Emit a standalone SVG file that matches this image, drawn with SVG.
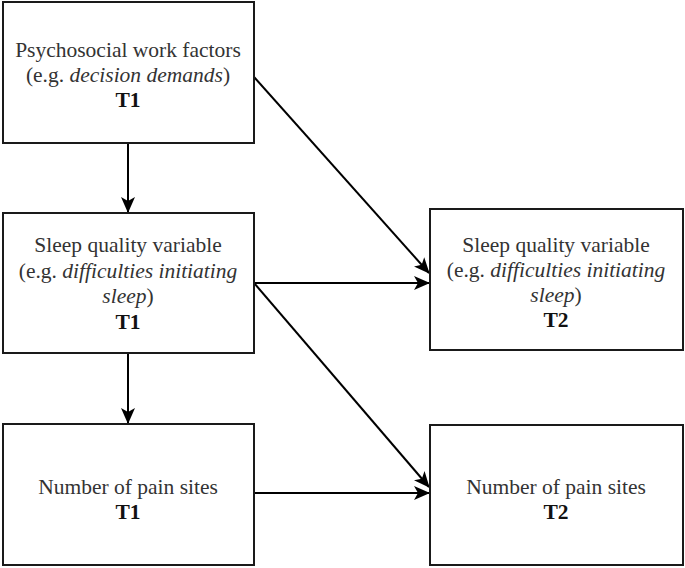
<svg xmlns="http://www.w3.org/2000/svg" width="685" height="568" viewBox="0 0 685 568">
<style>
.box{fill:#fff;stroke:#1a1a1a;stroke-width:2}
.c{stroke:#000;stroke-width:2;fill:none;marker-end:url(#ah)}
</style>
<defs>
<marker id="ah" viewBox="0 0 16 14" refX="15" refY="7" markerWidth="16" markerHeight="14" markerUnits="userSpaceOnUse" orient="auto">
<path d="M0,0 L16,7 L0,14 L4,7 Z" fill="#000"/>
</marker>
</defs>
<rect width="685" height="568" fill="#fff"/>
<g id="connectors">
<path d="M128,143 L128,212" class="c"/>
<path d="M128,353 L128,423" class="c"/>
<path d="M254,77 L429,273" class="c"/>
<path d="M254,283 L429,283" class="c"/>
<path d="M254,283 L429,487" class="c"/>
<path d="M254,493 L429,493" class="c"/>
</g>
<g id="psychosocial-t1" font-family="Liberation Serif, Times New Roman, serif" font-size="21.5" fill="#333" text-anchor="middle">
<rect class="box" x="3" y="2" width="251" height="141"/>
<text x="128" y="57">Psychosocial work factors</text>
<text x="128" y="82">(e.g. <tspan font-style="italic">decision demands</tspan>)</text>
<text x="128" y="107" font-weight="bold" fill="#111">T1</text>
</g>
<g id="sleep-t1" font-family="Liberation Serif, Times New Roman, serif" font-size="21.5" fill="#333" text-anchor="middle">
<rect class="box" x="3" y="213" width="251" height="140"/>
<text x="128" y="252">Sleep quality variable</text>
<text x="128" y="278">(e.g. <tspan font-style="italic">difficulties initiating</tspan></text>
<text x="128" y="303"><tspan font-style="italic">sleep</tspan>)</text>
<text x="128" y="329" font-weight="bold" fill="#111">T1</text>
</g>
<g id="sleep-t2" font-family="Liberation Serif, Times New Roman, serif" font-size="21.5" fill="#333" text-anchor="middle">
<rect class="box" x="430" y="209" width="253" height="141"/>
<text x="556" y="252">Sleep quality variable</text>
<text x="556" y="277">(e.g. <tspan font-style="italic">difficulties initiating</tspan></text>
<text x="556" y="302"><tspan font-style="italic">sleep</tspan>)</text>
<text x="556" y="327" font-weight="bold" fill="#111">T2</text>
</g>
<g id="pain-t1" font-family="Liberation Serif, Times New Roman, serif" font-size="21.5" fill="#333" text-anchor="middle">
<rect class="box" x="3" y="424" width="251" height="141"/>
<text x="128" y="494">Number of pain sites</text>
<text x="128" y="519" font-weight="bold" fill="#111">T1</text>
</g>
<g id="pain-t2" font-family="Liberation Serif, Times New Roman, serif" font-size="21.5" fill="#333" text-anchor="middle">
<rect class="box" x="430" y="425" width="253" height="140"/>
<text x="556" y="494">Number of pain sites</text>
<text x="556" y="519" font-weight="bold" fill="#111">T2</text>
</g>
</svg>
